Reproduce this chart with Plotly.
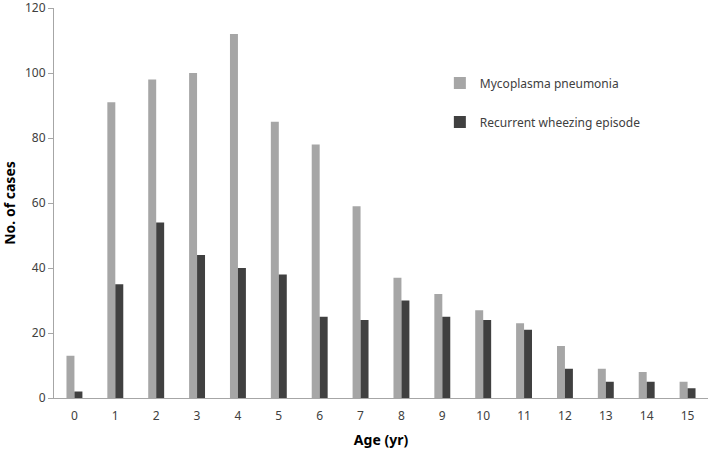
import plotly.graph_objects as go

ages = [str(i) for i in range(16)]
mycoplasma = [13, 91, 98, 100, 112, 85, 78, 59, 37, 32, 27, 23, 16, 9, 8, 5]
wheezing = [2, 35, 54, 44, 40, 38, 25, 24, 30, 25, 24, 21, 9, 5, 5, 3]
y_ticks = [0, 20, 40, 60, 80, 100, 120]

font_family = "Noto Sans, Open Sans, sans-serif"

fig = go.Figure()
fig.add_trace(go.Bar(x=ages, y=mycoplasma, name="Mycoplasma pneumonia",
                     marker=dict(color="#a6a6a6", line=dict(width=0)),
                     legendgroup="a"))
fig.add_trace(go.Bar(x=ages, y=wheezing, name="Recurrent wheezing episode",
                     marker=dict(color="#404040", line=dict(width=0)),
                     legendgroup="b"))

fig.update_layout(
    width=708, height=449,
    margin=dict(l=54, r=0, t=8, b=51),
    paper_bgcolor="white", plot_bgcolor="white",
    barmode="group", bargap=0.61, bargroupgap=0,
    font=dict(family=font_family, size=12, color="#404040"),
    showlegend=True,
    legend=dict(x=0.59, y=0.845, xanchor="left", yanchor="top",
                traceorder="grouped", tracegroupgap=20,
                font=dict(size=12, color="#404040"),
                bgcolor="rgba(0,0,0,0)"),
    xaxis=dict(
        title=dict(text="<b>Age (yr)</b>", font=dict(size=14, color="#000000"), standoff=11),
        showline=True, linecolor="#a6a6a6", linewidth=1,
        ticks="", showgrid=False, zeroline=False, automargin=False,
        ticklabelstandoff=7,
        tickfont=dict(size=12, color="#404040"),
    ),
    yaxis=dict(
        title=dict(text="<b>No. of cases</b>", font=dict(size=14, color="#000000"), standoff=10),
        range=[0, 120], tickmode="array", tickvals=y_ticks,
        ticktext=[str(v) for v in y_ticks],
        showline=True, linecolor="#a6a6a6", linewidth=1,
        ticks="outside", ticklen=5, tickcolor="#a6a6a6",
        ticklabeloverflow="allow",
        showgrid=False, zeroline=False, automargin=False,
        tickfont=dict(size=12, color="#404040"),
    ),
)

fig.write_html("out.html", config={"displayModeBar": False},
               post_script="document.body.style.margin='0';")
